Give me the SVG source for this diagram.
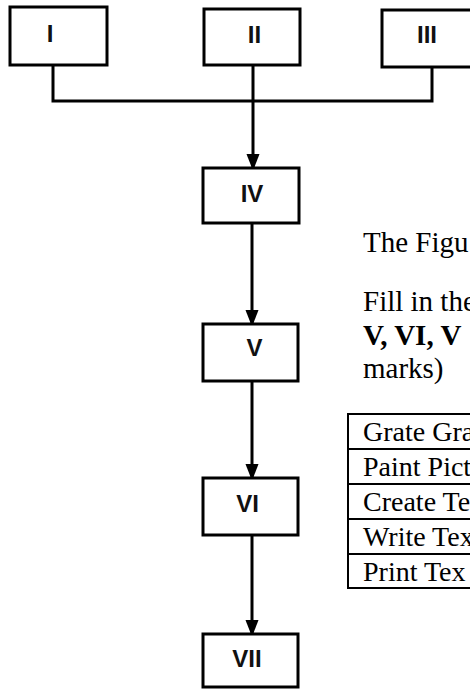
<svg xmlns="http://www.w3.org/2000/svg" width="470" height="689" viewBox="0 0 470 689">
<defs>
<style>
.box{fill:#fff;stroke:#000;stroke-width:3}
.lbl{font-family:"Liberation Sans",Arial,sans-serif;font-weight:bold;font-size:24px;text-anchor:middle;fill:#111}
.con{fill:none;stroke:#000;stroke-width:3}
.txt{font-family:"Liberation Serif","Times New Roman",serif;font-size:29px;fill:#000}
.tt{font-family:"Liberation Serif","Times New Roman",serif;font-size:28px;fill:#000}
.tbl{fill:none;stroke:#000;stroke-width:2}
</style>
<marker id="ah" markerWidth="17" markerHeight="22" refX="17" refY="8.5" orient="auto" markerUnits="userSpaceOnUse" viewBox="0 0 22 17">
<path d="M0,0 L22,8.5 L0,17 Z" fill="#000"/>
</marker>
</defs>
<rect width="470" height="689" fill="#fff"/>
<g id="connectors">
<path class="con" d="M53,65 V101 H432 V67 M253,65 V101"/>
<path class="con" d="M253,101 V167" marker-end="url(#ah)"/>
<path class="con" d="M252,223 V323" marker-end="url(#ah)"/>
<path class="con" d="M252,381 V477" marker-end="url(#ah)"/>
<path class="con" d="M252,535 V633" marker-end="url(#ah)"/>
</g>
<g id="n1"><rect class="box" x="10" y="7" width="97" height="58"/><text class="lbl" x="50" y="42">I</text></g>
<g id="n2"><rect class="box" x="204" y="9" width="96" height="56"/><text class="lbl" x="254.5" y="43">II</text></g>
<g id="n3"><rect class="box" x="382" y="10" width="100" height="57"/><text class="lbl" x="427" y="43">III</text></g>
<g id="n4"><rect class="box" x="203" y="168" width="96" height="55"/><text class="lbl" x="252" y="202">IV</text></g>
<g id="n5"><rect class="box" x="203" y="324" width="95" height="57"/><text class="lbl" x="254.5" y="356">V</text></g>
<g id="n6"><rect class="box" x="203" y="478" width="95" height="57"/><text class="lbl" x="247.5" y="512">VI</text></g>
<g id="n7"><rect class="box" x="203" y="634" width="95" height="53"/><text class="lbl" x="247" y="667">VII</text></g>
<g id="question">
<text class="txt" x="363" y="252">The Figu</text>
<text class="txt" x="363" y="311">Fill in the</text>
<text class="txt" x="363" y="345" font-weight="bold">V, VI, V</text>
<text class="txt" x="363" y="378">marks)</text>
</g>
<g id="table">
<path class="tbl" d="M480,414 H348 V588 H480 M348,449 H480 M348,484 H480 M348,519 H480 M348,554 H480"/>
<text class="tt" x="363" y="441">Grate Gra</text>
<text class="tt" x="363" y="476">Paint Pict</text>
<text class="tt" x="363" y="511">Create Te</text>
<text class="tt" x="363" y="546">Write Tex</text>
<text class="tt" x="363" y="581">Print Tex</text>
</g>
</svg>
